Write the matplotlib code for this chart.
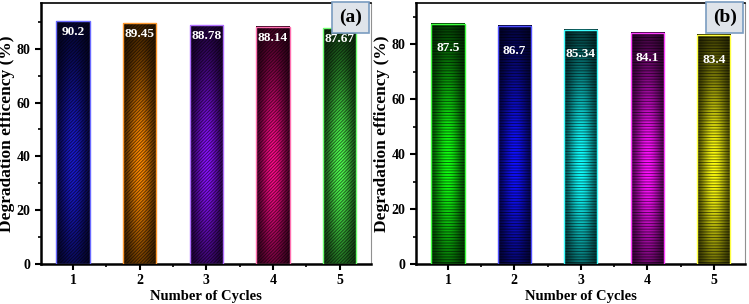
import numpy as np
import matplotlib.pyplot as plt
from matplotlib.ticker import MultipleLocator
from matplotlib.colors import to_rgb

plt.rcParams['font.family'] = ['Liberation Serif', 'DejaVu Serif']
plt.rcParams['font.weight'] = 'bold'
plt.rcParams['hatch.linewidth'] = 0.7

cycles = [1, 2, 3, 4, 5]
eff_a = [90.2, 89.45, 88.78, 88.14, 87.67]
eff_b = [87.5, 86.7, 85.34, 84.1, 83.4]
labels_a = ['90.2', '89.45', '88.78', '88.14', '87.67']
labels_b = ['87.5', '86.7', '85.34', '84.1', '83.4']
colors_a = ['#1a1ad0', '#ff8a00', '#8a10ff', '#ff0a8a', '#50ff50']
edges_a = ['#6a6aff', '#ff9a30', '#b070ff', '#ff70b0', '#70ff70']
colors_b = ['#10ff10', '#1010ff', '#10ffff', '#ff10ff', '#ffff10']
edges_b = ['#40ff40', '#5050ff', '#40ffff', '#ff40ff', '#ffff40']


def gradient(color):
    t = np.linspace(0, 1, 200)[:, None]
    u = np.linspace(-1, 1, 60)[None, :]
    v = np.exp(-((t - 0.42) / 0.42) ** 2)
    h = np.exp(-(u / 0.8) ** 2)
    b = 0.12 + 0.88 * v * h
    rgb = np.array(to_rgb(color))
    return b[:, :, None] * rgb[None, None, :]


def panel(ax, vals, labels, cols, edges, hatch, tag, ymax, off):
    w = 0.5
    for x, val, lab, c, e in zip(cycles, vals, labels, cols, edges):
        ax.imshow(gradient(c), extent=(x - w / 2, x + w / 2, 0, val),
                  origin='lower', aspect='auto', interpolation='bilinear', zorder=2)
        ax.bar(x, val, w, facecolor='none', edgecolor=(0, 0, 0, 0.55),
               hatch=hatch, linewidth=0, zorder=3)
        ax.bar(x, val, w, facecolor='none', edgecolor=e, linewidth=1.0, zorder=4)
        ax.text(x, val - off, lab, color='white', ha='center', va='center',
                fontsize=9.5, fontweight='bold', zorder=5)
    ax.set_xlim(0.52, 5.47)
    ax.set_ylim(0, ymax)
    ax.set_xticks(cycles)
    ax.xaxis.set_minor_locator(MultipleLocator(0.5))
    ax.yaxis.set_major_locator(MultipleLocator(20))
    ax.yaxis.set_minor_locator(MultipleLocator(10))
    ax.tick_params(which='major', direction='out', length=4, width=1.5, labelsize=10)
    ax.tick_params(which='minor', direction='out', length=2.5, width=1.2)
    ax.set_xlabel('Number of Cycles', fontsize=10.5, fontweight='bold', labelpad=2)
    ax.set_ylabel('Degradation efficency (%)', fontsize=12.5, fontweight='bold', labelpad=1)
    ax.spines['left'].set_linewidth(1.8)
    ax.spines['bottom'].set_linewidth(1.8)
    ax.spines['top'].set_linewidth(1.2)
    ax.spines['right'].set_color('#909090')
    ax.spines['right'].set_linewidth(0.8)
    ax.text(0.938, 0.945, tag, transform=ax.transAxes, ha='center', va='center',
            fontsize=14, fontweight='bold', zorder=6,
            bbox=dict(boxstyle='square,pad=0.35', facecolor='#dfe4ea',
                      edgecolor='#7a9cc0', linewidth=1.2))


fig = plt.figure(figsize=(7.49, 3.04), dpi=100)
ax1 = fig.add_axes([0.0547, 0.1316, 0.4406, 0.8586])
ax2 = fig.add_axes([0.5554, 0.1316, 0.4393, 0.8586])
panel(ax1, eff_a, labels_a, colors_a, edges_a, '//////////', '(a)', 97, 4)
panel(ax2, eff_b, labels_b, colors_b, edges_b, '------', '(b)', 95, 9)
fig.savefig('out.png', dpi=100)
